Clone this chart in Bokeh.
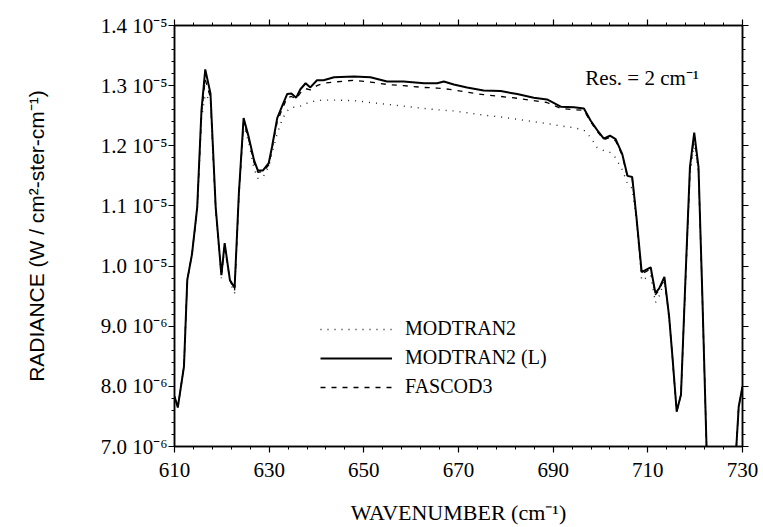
import numpy as np
from bokeh.plotting import figure
from bokeh.models import (Range1d, FixedTicker, CustomJSTickFormatter, LinearAxis,
                          Legend, LegendItem, Label)
from bokeh.embed import file_html
from bokeh.resources import INLINE

# ---------------- data (radiance values in units of 1e-6 W/cm2-ster-cm-1) ----------------
wavenumber = [610.0, 610.7, 612.0, 612.7, 613.7, 614.8, 615.7, 616.5, 617.6, 618.7,
              619.9, 620.6, 621.7, 622.7, 623.6, 624.6, 625.7, 626.8, 627.6, 628.7,
              629.9, 630.6, 631.7, 632.8, 633.8, 634.7, 635.7, 636.6, 637.7, 638.7,
              640.1, 641.5, 643.7, 647.9, 651.4, 654.9, 658.4, 662.7, 665.5, 666.9,
              669.0, 671.8, 675.3, 678.9, 682.4, 685.9, 688.7, 691.6, 694.4, 696.5,
              697.9, 699.3, 700.7, 702.0, 703.2, 704.6, 705.7, 706.7, 707.6, 708.7,
              710.6, 711.6, 712.4, 713.5, 714.5, 715.2, 716.1, 717.0, 718.0, 718.9,
              719.8, 720.7, 721.5, 722.4, 724.0, 726.0, 728.0, 728.7, 729.2, 730.0]

modtran2_l = [7.83, 7.65, 8.33, 9.77, 10.20, 10.98, 12.59, 13.27, 12.87, 10.98,
              9.85, 10.38, 9.77, 9.64, 11.21, 12.46, 12.14, 11.76, 11.59, 11.59,
              11.71, 11.98, 12.46, 12.67, 12.86, 12.87, 12.80, 12.94, 13.04, 12.97,
              13.09, 13.09, 13.14, 13.15, 13.14, 13.07, 13.07, 13.04, 13.04, 13.07,
              13.02, 12.97, 12.92, 12.91, 12.86, 12.80, 12.77, 12.65, 12.64, 12.62,
              12.42, 12.26, 12.12, 12.17, 12.11, 11.86, 11.50, 11.48, 10.81, 9.90,
              9.98, 9.55, 9.63, 9.82, 9.16, 8.49, 7.58, 7.86, 9.89, 11.65,
              12.22, 11.65, 9.55, 7.00, 5.80, 5.50, 6.00, 7.00, 7.66, 8.00]

modtran2 = [7.83, 7.65, 8.33, 9.77, 10.18, 10.95, 12.45, 12.85, 12.75, 10.95,
            9.80, 10.30, 9.74, 9.55, 11.15, 12.35, 12.05, 11.62, 11.46, 11.48,
            11.65, 11.88, 12.20, 12.45, 12.58, 12.64, 12.64, 12.66, 12.70, 12.73,
            12.75, 12.76, 12.76, 12.75, 12.72, 12.69, 12.66, 12.62, 12.60, 12.59,
            12.58, 12.55, 12.51, 12.48, 12.44, 12.40, 12.37, 12.33, 12.30, 12.26,
            12.14, 11.97, 11.92, 11.89, 11.80, 11.60, 11.37, 11.29, 10.75, 9.76,
            9.85, 9.39, 9.50, 9.75, 9.12, 8.46, 7.60, 7.85, 9.80, 11.50,
            12.05, 11.55, 9.50, 7.00, 5.80, 5.50, 6.00, 7.00, 7.66, 8.00]

fascod3 = [7.83, 7.65, 8.33, 9.77, 10.20, 10.97, 12.55, 13.10, 12.80, 10.97,
           9.84, 10.36, 9.76, 9.60, 11.19, 12.40, 12.10, 11.72, 11.56, 11.57,
           11.68, 11.95, 12.40, 12.62, 12.80, 12.82, 12.78, 12.88, 12.95, 12.93,
           13.00, 13.04, 13.06, 13.09, 13.06, 13.02, 13.00, 12.97, 12.96, 12.95,
           12.93, 12.89, 12.85, 12.82, 12.79, 12.75, 12.72, 12.62, 12.60, 12.59,
           12.40, 12.24, 12.10, 12.14, 12.08, 11.84, 11.48, 11.45, 10.80, 9.87,
           9.95, 9.52, 9.60, 9.80, 9.15, 8.48, 7.58, 7.86, 9.86, 11.60,
           12.15, 11.62, 9.53, 7.00, 5.80, 5.50, 6.00, 7.00, 7.66, 8.00]

UNIT = 1e-6
x_ticks = [610, 630, 650, 670, 690, 710, 730]
y_ticks = [7e-6, 8e-6, 9e-6, 1.0e-5, 1.1e-5, 1.2e-5, 1.3e-5, 1.4e-5]

x = np.array(wavenumber)
y_l = np.array(modtran2_l) * UNIT
y_m = np.array(modtran2) * UNIT
y_f = np.array(fascod3) * UNIT

SERIF = "Liberation Serif"
SANS = "Liberation Sans"

p = figure(width=763, height=527, output_backend="svg", toolbar_location=None,
           x_range=Range1d(610, 730), y_range=Range1d(7e-6, 1.4e-5),
           min_border_left=174, min_border_right=21, min_border_top=25, min_border_bottom=80)
p.background_fill_color = "white"
p.border_fill_color = "white"
p.grid.visible = False
p.outline_line_color = "black"
p.outline_line_width = 1.5

x_ticker = FixedTicker(ticks=x_ticks, minor_ticks=list(np.arange(610, 731, 4)))
y_ticker = FixedTicker(ticks=y_ticks, minor_ticks=list(np.arange(70, 141, 2) * 1e-7))

sci = CustomJSTickFormatter(code="""
const sup = {"-": "\u207B", "0": "\u2070", "1": "\u00B9", "2": "\u00B2", "3": "\u00B3",
             "4": "\u2074", "5": "\u2075", "6": "\u2076", "7": "\u2077", "8": "\u2078", "9": "\u2079"};
const e = Math.floor(Math.log10(tick) + 1e-9);
const m = tick / Math.pow(10, e);
return m.toFixed(1) + " 10" + String(e).split("").map(c => sup[c]).join("");
""")
blank = CustomJSTickFormatter(code="return '';")

def style_axis(ax):
    ax.axis_line_color = "black"
    ax.axis_line_width = 1.5
    ax.major_tick_line_color = "black"
    ax.minor_tick_line_color = "black"
    ax.major_tick_line_width = 1.2
    ax.minor_tick_line_width = 1.0
    ax.major_tick_out = 6
    ax.major_tick_in = 0
    ax.minor_tick_out = 3
    ax.minor_tick_in = 0
    ax.major_label_text_font = SERIF
    ax.major_label_text_font_size = "21px"
    ax.major_label_text_color = "black"

xa = p.xaxis[0]
xa.ticker = x_ticker
style_axis(xa)
xa.major_label_standoff = 10
xa.axis_label = "WAVENUMBER (cm\u207B\u00B9)"
xa.axis_label_text_font = SERIF
xa.axis_label_text_font_size = "22px"
xa.axis_label_text_font_style = "normal"
xa.axis_label_text_color = "black"
xa.axis_label_standoff = 20

ya = p.yaxis[0]
ya.ticker = y_ticker
ya.formatter = sci
style_axis(ya)
ya.major_label_standoff = 1
ya.axis_label = "RADIANCE (W / cm\u00B2-ster-cm\u207B\u00B9)"
ya.axis_label_text_font = SANS
ya.axis_label_text_font_size = "21px"
ya.axis_label_text_font_style = "normal"
ya.axis_label_text_color = "black"
ya.axis_label_standoff = 50

top = LinearAxis(ticker=x_ticker, formatter=blank)
style_axis(top)
p.add_layout(top, "above")
right = LinearAxis(ticker=y_ticker, formatter=blank)
style_axis(right)
p.add_layout(right, "right")

r_m = p.line(x, y_m, line_color="#222222", line_width=1.4, line_dash="1 6")
r_f = p.line(x, y_f, line_color="black", line_width=1.3, line_dash="5 6")
r_l = p.line(x, y_l, line_color="black", line_width=2.0)

legend = Legend(items=[LegendItem(label="MODTRAN2", renderers=[r_m]),
                       LegendItem(label="MODTRAN2 (L)", renderers=[r_l]),
                       LegendItem(label="FASCOD3", renderers=[r_f])],
                location=(146, 48))
legend.border_line_color = None
legend.background_fill_alpha = 0
legend.glyph_width = 72
legend.glyph_height = 20
legend.label_height = 20
legend.spacing = 6
legend.padding = 0
legend.margin = 0
legend.label_standoff = 13
legend.label_text_font = SERIF
legend.label_text_font_size = "20px"
legend.label_text_color = "black"
p.add_layout(legend)

res = Label(x=696.8, y=13.12 * UNIT, text="Res. = 2 cm\u207B\u00B9", text_font=SERIF,
            text_font_size="21px", text_color="black", text_baseline="alphabetic",
            text_align="left")
p.add_layout(res)

open("out.html", "w").write(file_html(p, INLINE))
